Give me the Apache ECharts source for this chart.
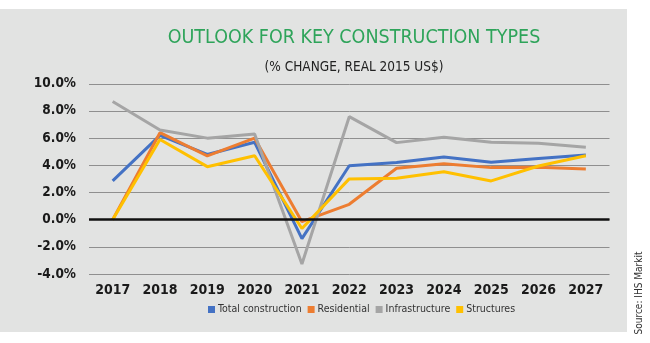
<!DOCTYPE html>
<html><head><meta charset="utf-8">
<script src="https://cdn.jsdelivr.net/npm/echarts@6/dist/echarts.min.js"></script>
<style>html,body{margin:0;padding:0;background:#fff}#c{width:650px;height:343px}</style>
</head><body><div id="c"></div>
<script>
const categories = ['2017','2018','2019','2020','2021','2022','2023','2024','2025','2026','2027'];
const totalConstruction = [2.85, 6.2, 4.8, 5.7, -1.4, 3.97, 4.2, 4.62, 4.22, 4.5, 4.76];
const residential = [0.0, 6.4, 4.7, 6.0, -0.15, 1.13, 3.78, 4.12, 3.83, 3.85, 3.73];
const infrastructure = [8.7, 6.6, 6.0, 6.3, -3.26, 7.58, 5.67, 6.06, 5.7, 5.62, 5.33];
const structures = [0.0, 5.9, 3.9, 4.7, -0.65, 3.0, 3.05, 3.53, 2.85, 3.95, 4.71];
const yTicks = [-4, -2, 0, 2, 4, 6, 8, 10];

const cond = "'Liberation Sans Narrow','DejaVu Sans Condensed','Roboto Condensed','Roboto',sans-serif";
const chart = echarts.init(document.getElementById('c'), null, {renderer:'canvas'});
const mk = (name, data, color) => ({
  name, type:'line', data, symbol:'none', smooth:false, z:3,
  lineStyle:{width:3, color}, itemStyle:{color}
});
chart.setOption({
  animation:false,
  backgroundColor:'#ffffff',
  graphic:[
    {type:'rect', shape:{x:0,y:9,width:627,height:323}, style:{fill:'#e2e3e2'}, z:-10},
    {type:'text', x:639, y:293, rotation:Math.PI/2, style:{text:'Source: IHS Markit', font:"300 10px "+cond, fill:'#333', align:'center', verticalAlign:'middle'}}
  ],
  title:[
    {text:'OUTLOOK FOR KEY CONSTRUCTION TYPES', left:349, top:23, textAlign:'center',
     textStyle:{color:'#2ea45a', fontSize:19.5, fontWeight:300, fontFamily:cond}},
    {text:'(% CHANGE, REAL 2015 US$)', left:349, top:55, textAlign:'center',
     textStyle:{color:'#222', fontSize:13.5, fontWeight:300, fontFamily:cond}}
  ],
  legend:{
    data:['Total construction','Residential','Infrastructure','Structures'],
    left:203, top:299, itemWidth:7, itemHeight:7, itemGap:6, icon:'rect',
    textStyle:{fontSize:10.5, color:'#333', fontFamily:cond, padding:[0,0,0,-2]}
  },
  grid:{left:89, right:40.5, top:83.8, bottom:69, containLabel:false},
  xAxis:{
    type:'category', data:categories, boundaryGap:true,
    axisLine:{show:false}, axisTick:{show:false},
    axisLabel:{interval:0, fontSize:14, fontWeight:'bold', color:'#1a1a1a', margin:9, fontFamily:cond}
  },
  yAxis:{
    type:'value', min:-4, max:10, interval:2,
    axisLine:{show:false}, axisTick:{show:false},
    splitLine:{lineStyle:{color:'#8f8f8f', width:1}},
    axisLabel:{fontSize:13.5, fontWeight:'bold', color:'#1a1a1a', margin:13, fontFamily:cond,
      formatter:v=>v.toFixed(1)+'%'}
  },
  series:[
    mk('Total construction', totalConstruction, '#4472c4'),
    mk('Residential', residential, '#ed7d31'),
    mk('Infrastructure', infrastructure, '#a5a5a5'),
    mk('Structures', structures, '#ffc000'),
    {type:'line', data:[], z:1, silent:true,
     markLine:{silent:true, symbol:'none', label:{show:false},
       lineStyle:{type:'solid', width:2.5, color:'#111'}, data:[{yAxis:0}]}}
  ]
});
</script></body></html>
